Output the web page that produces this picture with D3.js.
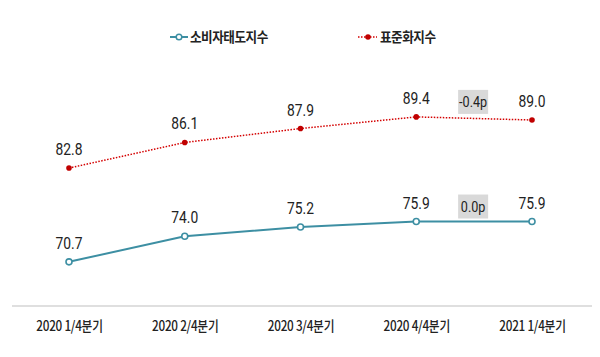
<!DOCTYPE html>
<html><head><meta charset="utf-8">
<script src="https://cdn.jsdelivr.net/npm/d3@7"></script>
<style>body{margin:0;background:#fff}</style>
</head><body>
<svg id="c" width="600" height="357"></svg>
<script>
const categories = ["2020 1/4분기","2020 2/4분기","2020 3/4분기","2020 4/4분기","2021 1/4분기"];
const consumerValues = [70.7, 74.0, 75.2, 75.9, 75.9];
const standardValues = [82.8, 86.1, 87.9, 89.4, 89.0];
const seriesNames = ["소비자태도지수", "표준화지수"];
const diffLabels = [{series: 1, text: "-0.4p"}, {series: 0, text: "0.0p"}];

const svg = d3.select("#c");
const blue = "#3d8fa3", red = "#d40000";
const font = "Roboto,'Noto Sans CJK KR',sans-serif";
const kfont = "'Noto Sans CJK KR',sans-serif";
const sx = 0.84;

const x = d3.scalePoint().domain(categories).range([69, 532]);
const y = d3.scaleLinear().domain([65, 95]).range([306, 73.5]);

// axis
svg.append("line").attr("x1", 12).attr("x2", 592).attr("y1", 306).attr("y2", 306)
  .attr("stroke", "#d4d4d4").attr("stroke-width", 1.5);
const ax = svg.append("g").attr("transform", "translate(0,306)")
  .call(d3.axisBottom(x).tickSize(0).tickPadding(0));
ax.select(".domain").remove();
ax.selectAll(".tick text").attr("font-family", kfont).attr("font-size", 14)
  .attr("fill", "#222").attr("font-weight", 500).attr("dy", 0).attr("y", 0)
  .attr("transform", `translate(0,25) scale(${sx},1)`).attr("letter-spacing", -0.3);

const line = d3.line().x((d, i) => x(categories[i])).y(d => y(d));

// standard (red dotted)
svg.append("path").datum(standardValues).attr("d", line).attr("fill", "none")
  .attr("stroke", red).attr("stroke-width", 1.5).attr("stroke-dasharray", "1.5,1.5");
svg.selectAll(".rdot").data(standardValues).join("circle")
  .attr("cx", (d, i) => x(categories[i])).attr("cy", d => y(d)).attr("r", 2.8).attr("fill", "#c00000");

// consumer (blue)
svg.append("path").datum(consumerValues).attr("d", line).attr("fill", "none")
  .attr("stroke", blue).attr("stroke-width", 2);
svg.selectAll(".bdot").data(consumerValues).join("circle")
  .attr("cx", (d, i) => x(categories[i])).attr("cy", d => y(d)).attr("r", 3)
  .attr("fill", "#fff").attr("stroke", blue).attr("stroke-width", 1.6);

// value labels
const series = [consumerValues, standardValues];
series.forEach(vals => {
  svg.selectAll(null).data(vals).join("text")
    .attr("transform", (d, i) => `translate(${x(categories[i])},${y(d) - 13}) scale(${sx},1)`)
    .attr("text-anchor", "middle").attr("font-family", font).attr("font-size", 16.5)
    .attr("fill", "#222").text(d => d.toFixed(1));
});

// difference boxes
diffLabels.forEach(dl => {
  const vals = series[dl.series];
  const cx = (x(categories[3]) + x(categories[4])) / 2 - 1;
  const cy = y(vals[3]) - 15;
  const g = svg.append("g");
  g.append("rect").attr("x", cx - 15).attr("y", cy - 12).attr("width", 30)
    .attr("height", 24).attr("fill", "#d9d9d9");
  g.append("text").attr("transform", `translate(${cx},${cy + 5}) scale(${sx},1)`).attr("text-anchor", "middle")
    .attr("font-family", font).attr("font-size", 15).attr("fill", "#222").text(dl.text);
});

// legend
const lg = svg.append("g");
lg.append("line").attr("x1", 170).attr("x2", 188).attr("y1", 37).attr("y2", 37).attr("stroke", blue).attr("stroke-width", 2);
lg.append("circle").attr("cx", 179).attr("cy", 37).attr("r", 2.8).attr("fill", "#fff").attr("stroke", blue).attr("stroke-width", 1.5);
lg.append("text").attr("transform", `translate(190,42) scale(0.9,1)`).attr("font-family", kfont).attr("font-size", 14)
  .attr("font-weight", 700).attr("fill", "#222").attr("letter-spacing", -0.5).text(seriesNames[0]);
lg.append("line").attr("x1", 358).attr("x2", 377).attr("y1", 37).attr("y2", 37).attr("stroke", red).attr("stroke-width", 1.5).attr("stroke-dasharray", "1.5,1.5");
lg.append("circle").attr("cx", 368).attr("cy", 37).attr("r", 2.8).attr("fill", "#c00000");
lg.append("text").attr("transform", `translate(380,42) scale(0.9,1)`).attr("font-family", kfont).attr("font-size", 14)
  .attr("font-weight", 700).attr("fill", "#222").attr("letter-spacing", -0.5).text(seriesNames[1]);
</script>
</body></html>
